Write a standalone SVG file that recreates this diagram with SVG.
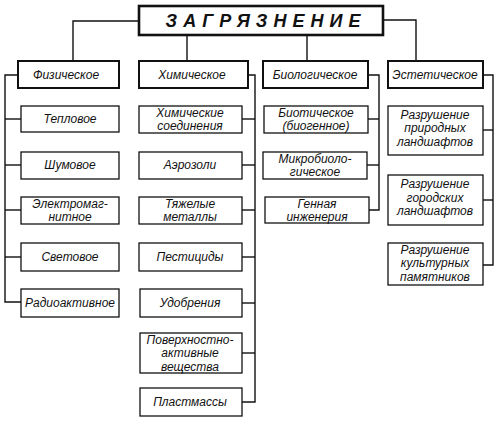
<svg xmlns="http://www.w3.org/2000/svg" width="500" height="421" viewBox="0 0 500 421">
<style>
.b1{fill:#fff;stroke:#111;stroke-width:2.6}
.b2{fill:#fff;stroke:#111;stroke-width:2}
.b3{fill:#fff;stroke:#111;stroke-width:1.3}
.c{fill:none;stroke:#111;stroke-width:1.4}
text{font-family:"Liberation Sans",Arial,sans-serif;font-style:italic;font-size:12px;fill:#111;text-anchor:middle}
.t{font-size:18px;font-weight:bold;letter-spacing:6px}
</style>
<rect width="500" height="421" fill="#fff"/>
<g id="connectors">
<polyline class="c" points="139,21 73,21 73,61"/>
<line class="c" x1="187" y1="35" x2="187" y2="61"/>
<line class="c" x1="307" y1="35" x2="307" y2="61"/>
<polyline class="c" points="383,20 416,20 416,61"/>
<polyline class="c" points="18,75 5,75 5,302 21,302"/>
<line class="c" x1="5" y1="119" x2="21" y2="119"/>
<line class="c" x1="5" y1="165" x2="21" y2="165"/>
<line class="c" x1="5" y1="210" x2="21" y2="210"/>
<line class="c" x1="5" y1="257" x2="21" y2="257"/>
<polyline class="c" points="248,75 255,75 255,402 242,402"/>
<line class="c" x1="242" y1="119" x2="255" y2="119"/>
<line class="c" x1="242" y1="165" x2="255" y2="165"/>
<line class="c" x1="242" y1="210" x2="255" y2="210"/>
<line class="c" x1="242" y1="257" x2="255" y2="257"/>
<line class="c" x1="242" y1="303" x2="255" y2="303"/>
<line class="c" x1="242" y1="353" x2="255" y2="353"/>
<polyline class="c" points="368,75 379,75 379,210 369,210"/>
<line class="c" x1="368" y1="119" x2="379" y2="119"/>
<line class="c" x1="367" y1="165" x2="379" y2="165"/>
<polyline class="c" points="483,75 493,75 493,265 483,265"/>
<line class="c" x1="483" y1="130" x2="493" y2="130"/>
<line class="c" x1="483" y1="200" x2="493" y2="200"/>
</g>
<g id="root"><rect class="b1" x="139" y="6" width="244" height="29"/><text class="t" x="266" y="27">ЗАГРЯЗНЕНИЕ</text></g>
<g id="fiz"><rect class="b2" x="18" y="61" width="101" height="27"/><text x="66" y="79">Физическое</text></g>
<g id="him"><rect class="b2" x="139" y="61" width="109" height="27"/><text x="192" y="79">Химическое</text></g>
<g id="bio"><rect class="b2" x="263" y="61" width="105" height="27"/><text x="315" y="79">Биологическое</text></g>
<g id="est"><rect class="b2" x="388" y="61" width="95" height="27"/><text x="435" y="79">Эстетическое</text></g>
<g id="f1"><rect class="b3" x="21" y="106" width="98" height="26"/><text x="70" y="123">Тепловое</text></g>
<g id="f2"><rect class="b3" x="21" y="152" width="98" height="27"/><text x="70" y="169">Шумовое</text></g>
<g id="f3"><rect class="b3" x="21" y="197" width="98" height="27"/><text x="70" y="207.5">Электромаг-</text><text x="70" y="221">нитное</text></g>
<g id="f4"><rect class="b3" x="21" y="243" width="98" height="28"/><text x="70" y="261">Световое</text></g>
<g id="f5"><rect class="b3" x="21" y="289" width="98" height="28"/><text x="70" y="307">Радиоактивное</text></g>
<g id="h1"><rect class="b3" x="139" y="106" width="103" height="27"/><text x="190" y="116.5">Химические</text><text x="190" y="130">соединения</text></g>
<g id="h2"><rect class="b3" x="139" y="152" width="103" height="27"/><text x="190" y="169">Аэрозоли</text></g>
<g id="h3"><rect class="b3" x="139" y="197" width="103" height="27"/><text x="190" y="207.5">Тяжелые</text><text x="190" y="221">металлы</text></g>
<g id="h4"><rect class="b3" x="139" y="243" width="103" height="28"/><text x="190" y="261">Пестициды</text></g>
<g id="h5"><rect class="b3" x="140" y="289" width="102" height="28"/><text x="190" y="307">Удобрения</text></g>
<g id="h6"><rect class="b3" x="140" y="333" width="102" height="40"/><text x="190" y="343.5">Поверхностно-</text><text x="190" y="357">активные</text><text x="190" y="370.5">вещества</text></g>
<g id="h7"><rect class="b3" x="140" y="388" width="102" height="28"/><text x="190" y="406">Пластмассы</text></g>
<g id="b1"><rect class="b3" x="264" y="106" width="104" height="27"/><text x="316" y="116.5">Биотическое</text><text x="316" y="130">(биогенное)</text></g>
<g id="b2"><rect class="b3" x="263" y="152" width="104" height="27"/><text x="315" y="162.5">Микробиоло-</text><text x="315" y="176">гическое</text></g>
<g id="b3"><rect class="b3" x="265" y="197" width="104" height="26"/><text x="317" y="207.5">Генная</text><text x="317" y="221">инженерия</text></g>
<g id="e1"><rect class="b3" x="388" y="106" width="95" height="49"/><text x="435" y="118.5">Разрушение</text><text x="435" y="132">природных</text><text x="435" y="145.5">ландшафтов</text></g>
<g id="e2"><rect class="b3" x="388" y="175" width="95" height="50"/><text x="435" y="188">Разрушение</text><text x="435" y="201.5">городских</text><text x="435" y="215">ландшафтов</text></g>
<g id="e3"><rect class="b3" x="388" y="243" width="95" height="42"/><text x="435" y="253.5">Разрушение</text><text x="435" y="267">культурных</text><text x="435" y="280.5">памятников</text></g>
</svg>
